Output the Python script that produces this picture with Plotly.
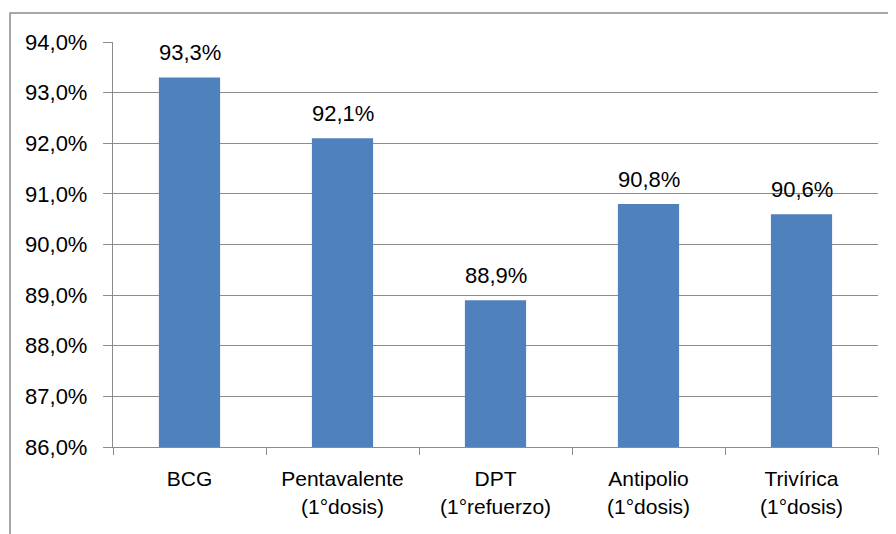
import plotly.graph_objects as go

# Coverage per vaccine (%)
vacunas = ["BCG", "Pentavalente<br>(1°dosis)", "DPT<br>(1°refuerzo)",
           "Antipolio<br>(1°dosis)", "Trivírica<br>(1°dosis)"]
cobertura = [93.3, 92.1, 88.9, 90.8, 90.6]

FONT = "Liberation Sans, Arial, sans-serif"
GRID = "#8c8c8c"

fig = go.Figure()

fig.add_trace(
    go.Bar(
        x=vacunas,
        y=cobertura,
        marker=dict(color="#4f81bd", line=dict(width=0)),
        width=0.4,
        hoverinfo="x+y",
    )
)

# Data labels above each bar
for cat, val in zip(vacunas, cobertura):
    fig.add_annotation(
        x=cat, y=val,
        text=f"{val:.1f}".replace(".", ",") + "%",
        showarrow=False,
        yanchor="bottom",
        yshift=10,
        font=dict(family=FONT, size=22, color="black"),
    )

# Outer chart border (cropped at right and bottom in the original)
fig.add_shape(
    type="rect", xref="paper", yref="paper",
    x0=-0.1346, x1=1.2, y0=-0.4, y1=1.0716,
    line=dict(color="#8c8c8c", width=1.5),
    fillcolor="rgba(0,0,0,0)",
    layer="below",
)

fig.update_layout(
    width=896,
    height=534,
    margin=dict(l=105, r=26, t=34, b=95, autoexpand=False),
    plot_bgcolor="white",
    paper_bgcolor="white",
    separators=",.",
    showlegend=False,
    font=dict(family=FONT, size=22, color="black"),
)

fig.update_yaxes(
    range=[86, 94],
    tick0=86,
    dtick=1,
    tickformat=".1f",
    ticksuffix="%",
    showticksuffix="all",
    showgrid=True,
    gridcolor=GRID,
    gridwidth=1.3,
    showline=True,
    linecolor=GRID,
    linewidth=1.3,
    ticks="outside",
    ticklen=9,
    tickcolor=GRID,
    ticklabelstandoff=11,
    zeroline=False,
    automargin=False,
    tickfont=dict(family=FONT, size=22, color="black"),
)

fig.update_xaxes(
    showline=True,
    linecolor=GRID,
    linewidth=1.3,
    ticks="outside",
    tickson="boundaries",
    ticklen=7,
    tickcolor=GRID,
    showgrid=False,
    tickangle=0,
    automargin=False,
    ticklabelstandoff=13,
    tickfont=dict(family=FONT, size=21, color="black"),
)

fig.write_html("out.html")
